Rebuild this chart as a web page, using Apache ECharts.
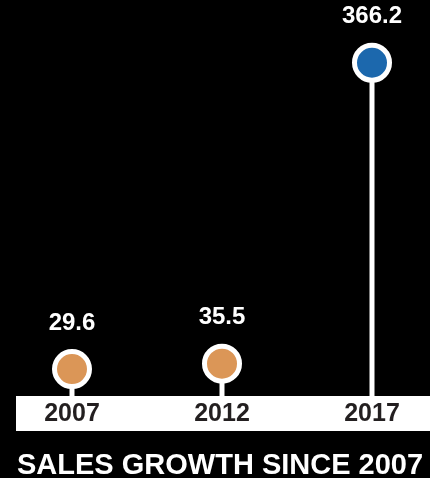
<!DOCTYPE html>
<html>
<head>
<meta charset="utf-8">
<title>Sales growth</title>
<script src="https://cdn.jsdelivr.net/npm/echarts@6/dist/echarts.min.js"></script>
<style>
  html, body { margin: 0; padding: 0; background: #000; }
  #main { width: 430px; height: 478px; }
</style>
</head>
<body>
<div id="main"></div>
<script>
// data
var years = ['2007', '2012', '2017'];
var sales = [29.6, 35.5, 366.2];
var titleText = 'SALES GROWTH SINCE 2007';

var ORANGE = '#db9657';
var BLUE = '#1c68ad';
var FONT = '"Liberation Sans", Arial, sans-serif';

var chart = echarts.init(document.getElementById('main'));

// last year is highlighted in blue
var dots = sales.map(function (v, i) {
    return {
        value: v,
        itemStyle: { color: i === sales.length - 1 ? BLUE : ORANGE }
    };
});

chart.setOption({
    backgroundColor: '#000',
    animation: false,
    title: {
        text: titleText,
        left: 17,
        top: 451,
        padding: 0,
        textStyle: {
            color: '#fff',
            fontFamily: FONT,
            fontWeight: 'bold',
            fontSize: 29,
            lineHeight: 29
        }
    },
    graphic: [{
        type: 'rect',
        z: 0,
        shape: { x: 16, y: 396, width: 414, height: 35 },
        style: { fill: '#fff' }
    }],
    grid: { left: 72, right: 58, top: 32, bottom: 82 },
    xAxis: {
        type: 'category',
        data: years,
        boundaryGap: false,
        z: 5,
        axisLine: { show: false },
        axisTick: { show: false },
        axisLabel: {
            margin: 6,
            color: '#231f20',
            fontFamily: FONT,
            fontWeight: 'bold',
            fontSize: 25,
            lineHeight: 25
        }
    },
    yAxis: {
        type: 'value',
        min: 0,
        max: 400,
        show: false,
        splitLine: { show: false }
    },
    series: [{
        type: 'bar',
        data: sales,
        barWidth: 5,
        z: 2,
        itemStyle: { color: '#fff' },
        silent: true
    }, {
        type: 'scatter',
        data: dots,
        symbol: 'circle',
        symbolSize: 35,
        z: 3,
        itemStyle: { borderColor: '#fff', borderWidth: 5, opacity: 1 },
        label: {
            show: true,
            position: 'top',
            distance: 14,
            color: '#fff',
            fontFamily: FONT,
            fontWeight: 'bold',
            fontSize: 24
        }
    }]
});
</script>
</body>
</html>
